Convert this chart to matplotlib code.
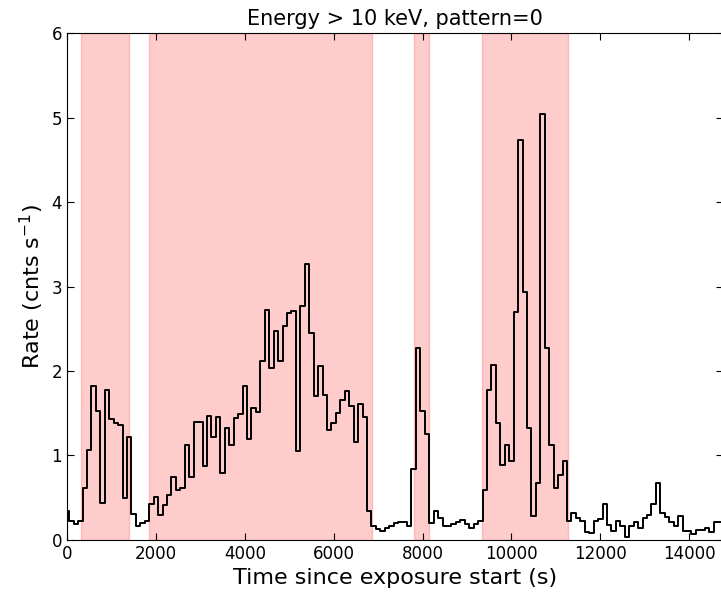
import numpy as np
import matplotlib
matplotlib.use('Agg')
import matplotlib.pyplot as plt

# light curve, 100 s bins, time = bin centre
bin_width = 100
rate = [0.34, 0.22, 0.19, 0.23, 0.61, 1.07, 1.82, 1.53, 0.44, 1.77,
        1.43, 1.38, 1.36, 0.50, 1.22, 0.31, 0.16, 0.20, 0.22, 0.42,
        0.51, 0.30, 0.41, 0.53, 0.74, 0.59, 0.61, 1.12, 0.74, 1.40,
        1.40, 0.87, 1.47, 1.22, 1.45, 0.79, 1.32, 1.13, 1.44, 1.49,
        1.82, 1.19, 1.56, 1.51, 2.12, 2.72, 2.03, 2.47, 2.12, 2.53,
        2.69, 2.71, 1.05, 2.77, 3.27, 2.45, 1.70, 2.06, 1.72, 1.30,
        1.39, 1.50, 1.66, 1.76, 1.58, 1.16, 1.61, 1.46, 0.34, 0.16,
        0.13, 0.11, 0.14, 0.17, 0.20, 0.21, 0.21, 0.16, 0.84, 2.27,
        1.53, 1.25, 0.20, 0.34, 0.26, 0.17, 0.17, 0.19, 0.21, 0.24,
        0.19, 0.14, 0.19, 0.23, 0.59, 1.77, 2.07, 1.39, 0.89, 1.13,
        0.93, 2.70, 4.73, 2.94, 1.32, 0.28, 0.67, 5.04, 2.27, 1.12,
        0.61, 0.77, 0.94, 0.23, 0.32, 0.26, 0.22, 0.10, 0.08, 0.23,
        0.25, 0.43, 0.18, 0.11, 0.22, 0.17, 0.03, 0.16, 0.21, 0.14,
        0.26, 0.30, 0.43, 0.68, 0.32, 0.27, 0.21, 0.17, 0.28, 0.11,
        0.11, 0.07, 0.12, 0.12, 0.14, 0.09, 0.21, 0.21]
time = np.arange(len(rate)) * bin_width

# flaring intervals (start, stop) in s
flare_start = [308, 1845, 7807, 9343]
flare_stop = [1395, 6862, 8144, 11264]

fig = plt.figure(figsize=(7.21, 5.97), dpi=100)
ax = fig.add_axes([0.0929, 0.0955, 0.9093, 0.8492])

for t0, t1 in zip(flare_start, flare_stop):
    ax.axvspan(t0, t1, color='red', alpha=0.2, lw=1)

ax.step(time, rate, where='mid', color='k', lw=1.4)

ax.set_xlim(0, 14750)
ax.set_ylim(0, 6)
ax.set_xticks(np.arange(0, 14750, 2000))
ax.set_yticks(np.arange(0, 7, 1))
ax.tick_params(direction='in', top=True, right=True, labelsize=12, length=5)

ax.set_xlabel('Time since exposure start (s)', fontsize=16)
ax.set_ylabel(r'Rate (cnts s$^{-1}$)', fontsize=16)
ax.set_title('Energy > 10 keV, pattern=0', fontsize=15)

fig.savefig('out.png', dpi=100)
